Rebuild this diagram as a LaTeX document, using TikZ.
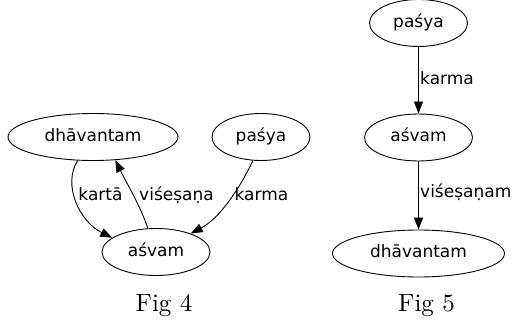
\documentclass[tikz,border=0pt]{standalone}
\usepackage{fontspec}
\newfontfamily\graphfont{DejaVu Sans}
\newfontfamily\capfont{lmroman10-regular}[Extension=.otf]
\usetikzlibrary{shapes.geometric,arrows.meta}

\tikzset{
  wnode/.style={ellipse, draw, line width=0.9pt, inner sep=0pt,
    minimum height=47pt, text height=12.5pt, text depth=3.5pt,
    font=\graphfont\fontsize{17}{21}\selectfont},
  rel/.style={line width=0.9pt, -{Triangle[length=12pt,width=9pt]}},
  rlabel/.style={anchor=base, inner sep=0pt,
    font=\graphfont\fontsize{17}{21}\selectfont},
  caption/.style={anchor=base, inner sep=0pt,
    font=\capfont\fontsize{25}{30}\selectfont}
}

\begin{document}
\begin{tikzpicture}[x=1pt, y=-1pt]
\useasboundingbox (0,0) rectangle (512,323);

% Fig 4: sentence graph with a cycle
\node[wnode, minimum width=170pt] (dh4) at (93,137) {dhāvantam};
\node[wnode, minimum width=98pt]  (pa4) at (261,137) {paśya};
\node[wnode, minimum width=108pt] (as4) at (156,252) {aśvam};

\draw[rel] (dh4.-123) .. controls (62,185) and (80,222) .. (as4.162);
\draw[rel] (as4.109) .. controls (140,205) and (126,182) .. (dh4.-46);
\draw[rel] (pa4.-109) .. controls (240,188) and (220,218) .. (as4.28);

\node[rlabel] (l4a) at (100.5,201) {kartā};
\node[rlabel] (l4b) at (176.5,201) {viśeṣaṇa};
\node[rlabel] (l4c) at (261.5,201) {karma};

\node[caption] (c4) at (164,312) {Fig 4};

% Fig 5: the same words as a chain
\node[wnode, minimum width=98pt]  (pa5) at (418.5,23) {paśya};
\node[wnode, minimum width=108pt] (as5) at (418.5,137.5) {aśvam};
\node[wnode, minimum width=172pt] (dh5) at (418.5,253.5) {dhāvantam};

\draw[rel] (pa5) -- (as5);
\draw[rel] (as5) -- (dh5);

\node[rlabel, anchor=base west] (l5a) at (420,85) {karma};
\node[rlabel, anchor=base west] (l5b) at (420,198) {viśeṣaṇam};

\node[caption] (c5) at (426.5,312) {Fig 5};
\end{tikzpicture}
\end{document}
